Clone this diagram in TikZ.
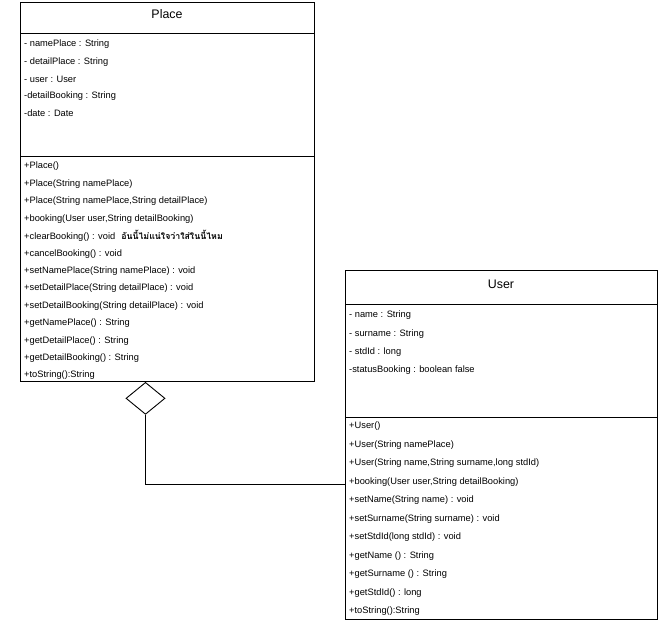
\documentclass[tikz,border=0pt]{standalone}
\usepackage{fontspec}
\setmainfont{Liberation Sans}
\newfontfamily\thaifont[Script=Thai]{Loma}
\usetikzlibrary{shapes.geometric, positioning}

\begin{document}
\begin{tikzpicture}[x=1pt, y=-1pt,
      compart/.style={rectangle, draw=black, line width=0.9pt,
                      anchor=north west, inner sep=0pt},
      classname/.style={inner sep=0pt, font=\fontsize{12.4}{14}\selectfont},
      member/.style={anchor=west, inner sep=0pt,
                     font=\fontsize{9.3}{11}\selectfont},
      aggr/.style={diamond, draw=black, line width=0.9pt, fill=white,
                   minimum width=39pt, minimum height=32pt, inner sep=0pt}
    ]
    \useasboundingbox (0,0) rectangle (672,623);

    % Place class
    \node[compart, minimum width=294pt, minimum height=31pt]  (placeT) at (20,2) {};
    \node[compart, minimum width=294pt, minimum height=123pt] (placeA) at (20,33) {};
    \node[compart, minimum width=294pt, minimum height=225pt] (placeM) at (20,156) {};
    \node[classname] (placeName) at (167,14) {Place};

    \foreach \m [count=\i from 0] in {- namePlace : String, - detailPlace : String,
        - user : User, -detailBooking : String, -date : Date} {
      \node[member] (pa\i) at (24, 44.5+17.25*\i) {\m};
    }
    \foreach \m [count=\i from 0] in {+Place(), +Place(String namePlace),
        {+Place(String namePlace,String detailPlace)},
        {+booking(User user,String detailBooking)},
        {+clearBooking() : void\hspace{6pt}{\thaifont\bfseries\fontsize{8.8}{11}\selectfont อันนี้ไม่แน่ใจว่าใส่ในนี้ไหม}},
        +cancelBooking() : void,
        +setNamePlace(String namePlace) : void,
        +setDetailPlace(String detailPlace) : void,
        +setDetailBooking(String detailPlace) : void,
        +getNamePlace() : String, +getDetailPlace() : String,
        +getDetailBooking() : String, +toString():String} {
      \node[member] (pm\i) at (24, 166.5+17.42*\i) {\m};
    }

    % User class
    \node[compart, minimum width=312pt, minimum height=34pt]  (userT) at (345,270) {};
    \node[compart, minimum width=312pt, minimum height=113pt] (userA) at (345,304) {};
    \node[compart, minimum width=312pt, minimum height=202pt] (userM) at (345,417) {};
    \node[classname] (userName) at (501,284) {User};

    \foreach \m [count=\i from 0] in {- name : String, - surname : String,
        - stdId : long, -statusBooking : boolean false} {
      \node[member] (ua\i) at (349, 315.5+18.33*\i) {\m};
    }
    \foreach \m [count=\i from 0] in {+User(), +User(String namePlace),
        {+User(String name,String surname,long stdId)},
        {+booking(User user,String detailBooking)},
        +setName(String name) : void,
        +setSurname(String surname) : void,
        +setStdId(long stdId) : void,
        +getName () : String, +getSurname () : String,
        +getStdId() : long, +toString():String} {
      \node[member] (um\i) at (349, 426.5+18.5*\i) {\m};
    }

    % Aggregation
    \node[aggr, anchor=north] (agg) at ([xshift=125.5pt]placeM.south west) {};
    \draw[line width=0.9pt] (agg.south) |- ([yshift=34pt]userM.west);
  \end{tikzpicture}
\end{document}
